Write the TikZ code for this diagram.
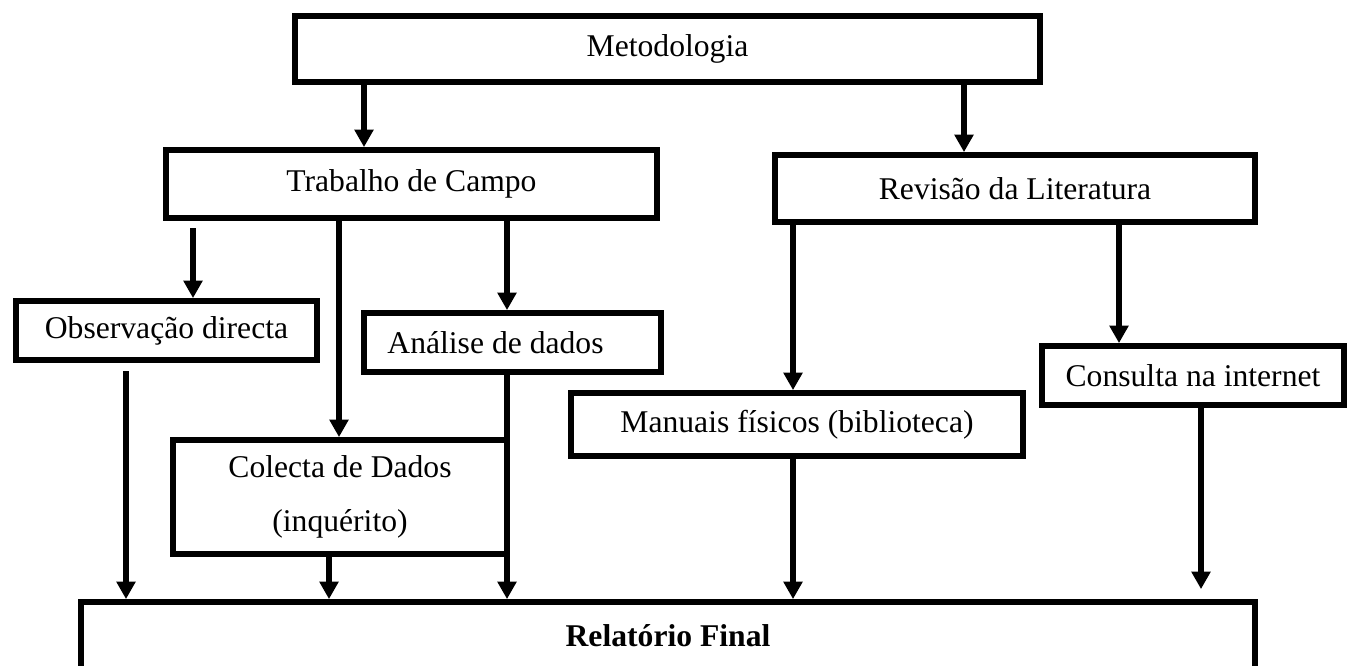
\documentclass[tikz,border=0pt]{standalone}
\usepackage{fontspec}
\setmainfont{Liberation Serif}
\usepackage{tikz}
\usetikzlibrary{arrows.meta,calc}

\begin{document}
\begin{tikzpicture}[x=1cm,y=1cm,>={Triangle[length=10pt,width=10.5pt]}]
  \tikzset{
    box/.style={draw,line width=3.3pt,inner sep=0pt,align=center,
      font=\fontsize{18}{31}\selectfont,fill=white},
    flow/.style={->,line width=3pt}
  }
  \useasboundingbox (0,0) rectangle (26.96,-13.30);

  \node[box,minimum width=14.90cm,minimum height=1.32cm] (met) at (13.35,-0.98) {Metodologia};
  \node[box,minimum width=9.82cm,minimum height=1.36cm] (trab) at (8.23,-3.68) {Trabalho de Campo};
  \node[box,minimum width=9.60cm,minimum height=1.34cm] (rev) at (20.30,-3.77) {Revisão da Literatura};
  \node[box,minimum width=6.02cm,minimum height=1.18cm] (obs) at (3.33,-6.61) {Observação directa};
  \node[box,minimum width=5.94cm,minimum height=1.18cm] (ana) at (10.25,-6.85) {Análise de dados\hspace*{.68cm}};
  \node[box,minimum width=6.04cm,minimum height=1.18cm] (cons) at (23.86,-7.51) {Consulta na internet};
  \node[box,minimum width=9.04cm,minimum height=1.26cm] (man) at (15.94,-8.49) {Manuais físicos (biblioteca)};
  \node[box,minimum width=6.68cm,minimum height=2.28cm] (col) at (6.80,-9.94) {Colecta de Dados\\(inquérito)};
  \node[box,minimum width=23.48cm,minimum height=1.36cm,font=\fontsize{18}{22}\selectfont\bfseries] (rel) at (13.36,-12.72) {Relatório Final};

  % columns of the connectors
  \coordinate (xa) at (7.28,0);
  \coordinate (xb) at (19.28,0);
  \coordinate (xobs) at (3.86,-4.56);
  \coordinate (xcol) at (6.78,0);
  \coordinate (xana) at (10.14,0);
  \coordinate (xobs2) at (2.52,-7.42);
  \coordinate (xcol2) at (6.58,0);
  \coordinate (xman) at (15.86,0);
  \coordinate (xcons) at (22.38,0);
  \coordinate (xcons2) at (24.02,0);

  \draw[flow] (met.south -| xa) -- (trab.north -| xa);
  \draw[flow] (met.south -| xb) -- (rev.north -| xb);
  \draw[flow] (xobs) -- (obs.north -| xobs);
  \draw[flow] (trab.south -| xcol) -- (col.north -| xcol);
  \draw[flow] (trab.south -| xana) -- (ana.north -| xana);
  \draw[flow] ($(rev.south -| xman)+(0,.08)$) -- (man.north -| xman);
  \draw[flow] (rev.south -| xcons) -- (cons.north -| xcons);

  \draw[flow] (xobs2) -- (rel.north -| xobs2);
  \draw[flow] (ana.south -| xana) -- (rel.north -| xana);
  \draw[flow] (col.south -| xcol2) -- (rel.north -| xcol2);
  \draw[flow] (man.south -| xman) -- (rel.north -| xman);
  \draw[flow,shorten >=.2cm] (cons.south -| xcons2) -- (rel.north -| xcons2);
\end{tikzpicture}
\end{document}
